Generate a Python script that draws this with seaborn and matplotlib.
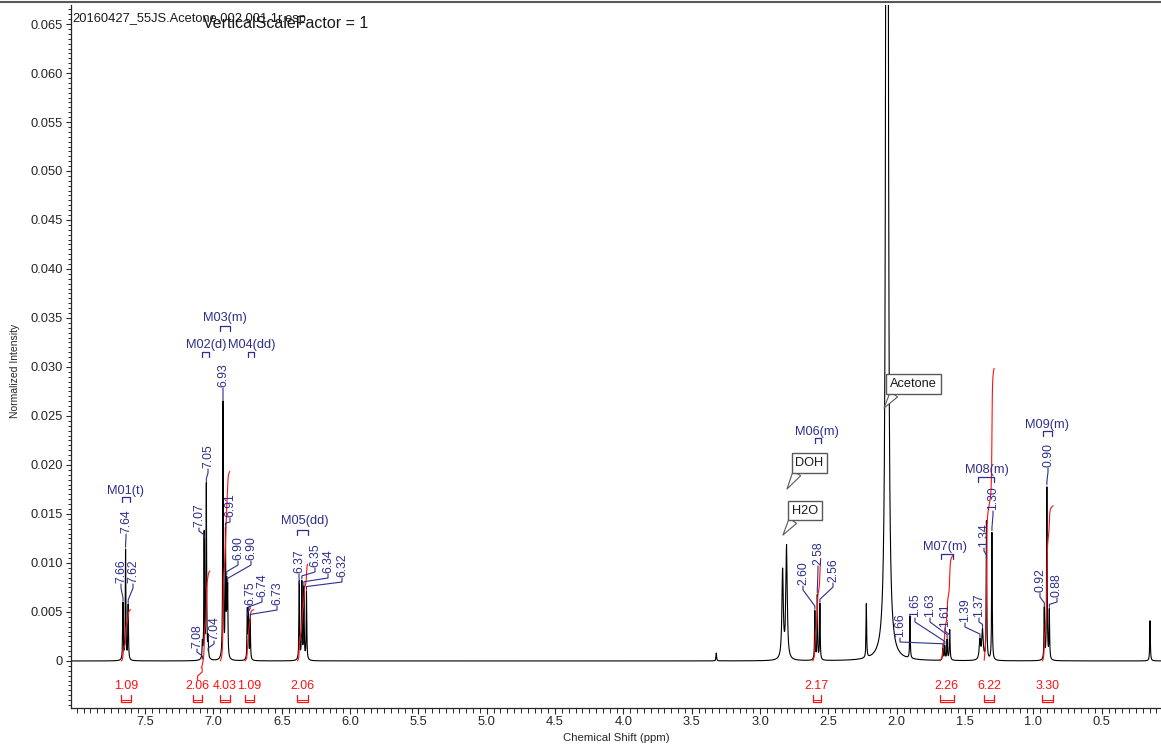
import numpy as np
import pandas as pd
import matplotlib
matplotlib.use("Agg")
import matplotlib.pyplot as plt
from matplotlib.lines import Line2D
from matplotlib.ticker import FixedLocator, MultipleLocator, FuncFormatter
import seaborn as sns

# ---------------- 1H NMR data (acetone-d6) ----------------
mult_names = ["M01(t)", "M02(d)", "M03(m)", "M04(dd)", "M05(dd)",
              "M06(m)", "M07(m)", "M08(m)", "M09(m)"]

# individual lines of each multiplet: shift (ppm) and normalized height
mult_shifts = [
    [7.662, 7.643, 7.624],
    [7.081, 7.068, 7.052, 7.039],
    [6.930, 6.912, 6.903, 6.896],
    [6.752, 6.744, 6.731],
    [6.372, 6.353, 6.338, 6.319],
    [2.599, 2.581, 2.562],
    [1.662, 1.648, 1.631, 1.612],
    [1.391, 1.372, 1.343, 1.303],
    [0.920, 0.901, 0.883],
]
mult_heights = [
    [0.0058, 0.0113, 0.0056],
    [0.0016, 0.0128, 0.0178, 0.0020],
    [0.0262, 0.0125, 0.0068, 0.0068],
    [0.0050, 0.0045, 0.0041],
    [0.0080, 0.0079, 0.0073, 0.0070],
    [0.0050, 0.0066, 0.0057],
    [0.0012, 0.0014, 0.0021, 0.0031],
    [0.0020, 0.0030, 0.0142, 0.0131],
    [0.0052, 0.0177, 0.0050],
]
mult_linewidths = [
    [0.0025] * 3,
    [0.0025] * 4,
    [0.0025] * 4,
    [0.0025] * 3,
    [0.0025] * 4,
    [0.0025] * 3,
    [0.0030] * 4,
    [0.0060, 0.0060, 0.0025, 0.0025],
    [0.0025] * 3,
]
# multiplet ranges (ppm) shown by the brackets under the multiplet names
mult_ranges = [
    (7.669, 7.610), (7.084, 7.033), (6.952, 6.879), (6.747, 6.703),
    (6.389, 6.308), (2.598, 2.554), (1.676, 1.588), (1.405, 1.288),
    (0.929, 0.864),
]

# integrals
integral_values = [1.09, 2.06, 4.03, 1.09, 2.06, 2.17, 2.26, 6.22, 3.30]
integral_ranges = [
    (7.675, 7.605), (7.090, 7.025), (6.950, 6.880), (6.770, 6.705),
    (6.385, 6.310), (2.615, 2.555), (1.685, 1.582), (1.360, 1.287),
    (0.935, 0.855),
]
integral_offsets = [0.0, -0.0007, 0.0, 0.0, 0.0, 0.0, 0.0, 0.0, 0.0]

# solvent, water and impurity lines
other_shifts = [3.320, 2.835, 2.806, 2.222, 2.071, 1.903, 0.146]
other_heights = [0.0008, 0.0090, 0.0115, 0.0055, 0.55, 0.0043, 0.0041]
other_linewidths = [0.0025, 0.0060, 0.0060, 0.0025, 0.0038, 0.0025, 0.0025]

solvent_names = ["DOH", "H2O", "Acetone"]

x_major = [7.5, 7.0, 6.5, 6.0, 5.5, 5.0, 4.5, 4.0, 3.5, 3.0, 2.5, 2.0, 1.5, 1.0, 0.5]

# ---------------- layout (figure pixels, origin top-left) ----------------
W, H = 1161, 746
peak_label_px = {
    7.662: (121, 583), 7.643: (126, 533), 7.624: (133, 583),
    7.081: (197, 648), 7.068: (199, 527), 7.052: (208, 468), 7.039: (214, 640),
    6.930: (223, 387), 6.912: (230, 517), 6.903: (238, 560), 6.896: (251, 560),
    6.752: (250, 605), 6.744: (262, 597), 6.731: (277, 605),
    6.372: (299, 573), 6.353: (315, 567), 6.338: (328, 573), 6.319: (342, 577),
    2.599: (803, 585), 2.581: (818, 565), 2.562: (833, 582),
    1.662: (900, 637), 1.648: (915, 617), 1.631: (930, 617), 1.612: (945, 627),
    1.391: (965, 622), 1.372: (979, 617), 1.343: (984, 547), 1.303: (993, 510),
    0.920: (1040, 592), 0.901: (1048, 467), 0.883: (1057, 597),
}
# multiplet name: text centre x, text centre y, bracket y
mult_label_px = {
    "M01(t)": (126, 491, 497), "M02(d)": (206, 345, 352),
    "M03(m)": (225, 318, 326), "M04(dd)": (252, 345, 352),
    "M05(dd)": (305, 521, 530), "M06(m)": (817, 432, 438),
    "M07(m)": (945, 547, 554), "M08(m)": (987, 470, 477),
    "M09(m)": (1047, 425, 431),
}
integral_label_shift_px = [0, -8, 0, 0, 0, 0, 0, 0, 0]
# callout boxes: box centre and tip
solvent_box_px = {
    "DOH": ((809.5, 463), (787, 489)),
    "H2O": ((805, 510.5), (783, 535)),
    "Acetone": ((913.5, 384), (884, 408)),
}

BLUE = "#2e2e8c"
RED = "#ff1010"

sns.set_style("ticks")
plt.rcParams["font.family"] = ["Liberation Sans", "DejaVu Sans"]
plt.rcParams["axes.linewidth"] = 0.9

fig = plt.figure(figsize=(W / 100, H / 100), dpi=100)
ax = fig.add_axes([71 / W, (H - 708) / H, (W - 71) / W, (708 - 5) / H])

# ---------------- build spectrum from the line list ----------------
all_shift = np.array([s for g in mult_shifts for s in g] + other_shifts)
all_height = np.array([h for g in mult_heights for h in g] + other_heights)
all_width = np.array([w for g in mult_linewidths for w in g] + other_linewidths)


def spectrum(x):
    x = np.atleast_1d(np.asarray(x, float))[:, None]
    return (all_height * all_width ** 2 /
            ((x - all_shift) ** 2 + all_width ** 2)).sum(axis=1)


grid = np.arange(0.04, 8.06, 0.0004)
spec_df = pd.DataFrame({"shift": grid, "intensity": spectrum(grid)})
sns.lineplot(data=spec_df, x="shift", y="intensity", color="black",
             lw=0.8, estimator=None, ax=ax, zorder=2)

# integral curves
K_INT = 0.0048
rows = []
for name, (hi, lo), val, off in zip(mult_names, integral_ranges,
                                    integral_values, integral_offsets):
    xs = grid[(grid <= hi) & (grid >= lo)][::-1]
    cum = np.cumsum(spectrum(xs))
    cum = cum / cum[-1]
    rows.append(pd.DataFrame({"shift": xs, "level": off + K_INT * val * cum,
                              "region": name}))
int_df = pd.concat(rows, ignore_index=True)
sns.lineplot(data=int_df, x="shift", y="level", units="region",
             estimator=None, sort=False, color=RED, lw=0.8, ax=ax, zorder=3)

# ---------------- axes ----------------
ax.set_xlim(8.0425, 0.0659)
ax.set_ylim(-0.0048, 0.06694)
ax.spines[["top", "right"]].set_visible(False)
ax.xaxis.set_major_locator(FixedLocator(x_major))
ax.xaxis.set_minor_locator(MultipleLocator(0.05))
ax.xaxis.set_major_formatter(FuncFormatter(lambda v, p: f"{v:.1f}"))
ax.yaxis.set_major_locator(FixedLocator(np.arange(0, 0.0651, 0.005)))
ax.yaxis.set_minor_locator(FixedLocator(np.arange(-0.0045, 0.0667, 0.0005)))
ax.yaxis.set_major_formatter(
    FuncFormatter(lambda v, p: "0" if abs(v) < 1e-9 else f"{v:.3f}"))
ax.tick_params(axis="x", which="major", length=4.5, width=0.8, pad=1.5,
               labelsize=9.3, direction="out")
ax.tick_params(axis="x", which="minor", length=3.5, width=0.7, direction="out")
ax.tick_params(axis="y", which="major", length=3.5, width=0.8, pad=2.5,
               labelsize=9.3, direction="out")
ax.tick_params(axis="y", which="minor", length=2.2, width=0.7, direction="out")

ax.set_xlabel("Chemical Shift (ppm)", fontsize=8.2)
ax.set_ylabel("Normalized Intensity", fontsize=7.5)
ax.xaxis.label.set_va("center")
ax.yaxis.label.set_va("center")
ax.xaxis.set_label_coords(0.5, -(738 - 708) / 703)
ax.yaxis.set_label_coords(-(71 - 15) / 1090, 0.48)


def to_data(px, py):
    return ax.transData.inverted().transform((px, H - py))


def to_px(x, y):
    d = ax.transData.transform((x, y))
    return d[0], H - d[1]


def poly_px(points, **kw):
    pts = np.array([to_data(px, py) for px, py in points])
    ax.plot(pts[:, 0], pts[:, 1], **kw)


# ---------------- peak labels ----------------
for shift, (lx, lb) in peak_label_px.items():
    top = spectrum(shift)[0]
    px, ptop = to_px(shift, top)
    tx, ty = to_data(lx, lb)
    ax.text(tx, ty, f"{shift:.2f}", rotation=90, ha="center", va="bottom",
            fontsize=8.8, color=BLUE, zorder=5)
    if ptop - 4 > lb + 6:
        pts = [(lx, lb + 1), (lx, lb + 5), (px, ptop - 4), (px, ptop - 1)]
    else:
        pts = [(lx, lb + 1), (lx, lb + 4), (px, lb + 8), (px, lb + 11)]
    poly_px(pts, color=BLUE, lw=0.8, zorder=4)

# ---------------- multiplet names ----------------
for name, (hi, lo) in zip(mult_names, mult_ranges):
    cx, cy, by = mult_label_px[name]
    tx, ty = to_data(cx, cy)
    ax.text(tx, ty, name, ha="center", va="center", fontsize=9.2,
            color=BLUE, zorder=5)
    x0 = to_px(hi, 0)[0]
    x1 = to_px(lo, 0)[0]
    poly_px([(x0, by + 5), (x0, by), (x1, by), (x1, by + 5)],
            color=BLUE, lw=0.9, zorder=5)

# ---------------- integral labels ----------------
for val, (hi, lo), dx in zip(integral_values, integral_ranges,
                             integral_label_shift_px):
    x0 = to_px(hi, 0)[0] + dx
    x1 = to_px(lo, 0)[0] + dx
    cx = 0.5 * (x0 + x1)
    tx, ty = to_data(cx, 686)
    ax.text(tx, ty, f"{val:.2f}", ha="center", va="center", fontsize=8.9,
            color=RED, zorder=5)
    poly_px([(x0, 695), (x0, 702), (x1, 702), (x1, 695)],
            color=RED, lw=0.9, zorder=5)
    poly_px([(x0, 699.5), (x1, 699.5)], color=RED, lw=0.7, zorder=5)
    if dx != 0:
        sx = to_px(hi, 0)[0] + 1
        poly_px([(cx, 680), (cx, 676), (sx, 672), (sx, 668)],
                color=RED, lw=0.8, zorder=5)

# ---------------- solvent callouts ----------------
for name in solvent_names:
    (bx, by), (tx_, ty_) = solvent_box_px[name]
    ax.annotate(name, xy=to_data(tx_, ty_), xytext=to_data(bx, by),
                textcoords="data", ha="center", va="center", fontsize=9.2,
                color="0.1", zorder=6,
                bbox=dict(boxstyle="square,pad=0.3", fc="white", ec="0.35",
                          lw=1.0),
                arrowprops=dict(arrowstyle="wedge,tail_width=0.7,shrink_factor=0.5",
                                fc="white", ec="0.35", lw=0.8,
                                relpos=(0.15, 0.0), shrinkA=0, shrinkB=0))

# ---------------- header texts ----------------
fig.add_artist(Line2D([0, 1], [1 - 1.5 / H] * 2, transform=fig.transFigure,
                      color="0.35", lw=1.5))
fig.text(72 / W, 1 - 19 / H, "20160427_55JS.Acetone.002.001.1r.esp",
         fontsize=9.3, ha="left", va="center", color="0.1")
fig.text(203 / W, 1 - 23 / H, "VerticalScaleFactor = 1",
         fontsize=11.5, ha="left", va="center", color="0.1")

fig.savefig("out.png", dpi=100)
